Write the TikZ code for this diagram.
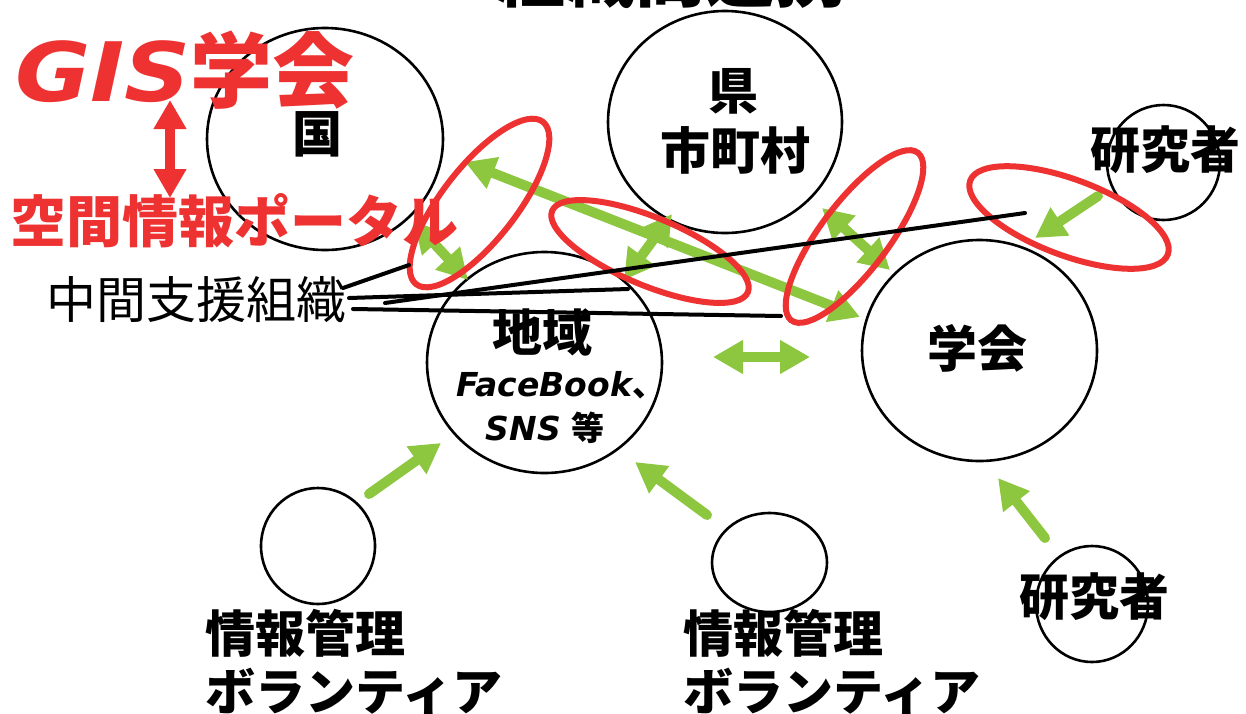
\documentclass[tikz,border=0pt]{standalone}
\usepackage{fontspec}
\usetikzlibrary{arrows.meta,shapes.geometric}
\newfontfamily\jp{Noto Sans CJK JP}
\newfontfamily\lat{DejaVu Sans}
\newfontfamily\latw{DejaVu Sans}[FakeStretch=1.12]
\definecolor{gr}{RGB}{141,198,63}
\definecolor{rd}{RGB}{238,50,50}
\newcommand\fsz[1]{\fontsize{#1}{#1}\selectfont}
\begin{document}
\begin{tikzpicture}[x=1pt,y=-1pt,
  circ/.style={ellipse,draw,line width=2.6pt,inner sep=0pt},
  redell/.style={ellipse,draw=rd,line width=6pt,inner sep=0pt},
  lbl/.style={inner sep=0pt,font=\jp\bfseries\fsz{50}},
  garr/.style={draw=gr,line width=10pt,line cap=round,-{Triangle[length=30pt,width=32pt]}},
  gdarr/.style={draw=gr,line width=10pt,{Triangle[length=30pt,width=32pt]}-{Triangle[length=30pt,width=32pt]}},
  blk/.style={draw=black,line width=4pt,line cap=round}]
\useasboundingbox (0,0) rectangle (1246,713);
\clip (0,0) rectangle (1246,713);

% title (cut off at top)
\node[inner sep=0pt,anchor=south,font=\jp\bfseries\fsz{70}] (title) at (670,9) {組織間連携};

% circles
\node[circ,minimum width=236pt,minimum height=222pt] (kuni) at (325,139) {};
\node[circ,minimum width=234pt,minimum height=222pt] (ken) at (725,122) {};
\node[circ,minimum width=235pt,minimum height=221pt] (chiiki) at (544.5,362.5) {};
\node[circ,minimum width=235pt,minimum height=221pt] (gakkai) at (979.5,350.5) {};
\node[circ,minimum width=113pt,minimum height=115pt] (res1) at (1163.5,162.5) {};
\node[circ,minimum width=114pt,minimum height=116pt] (vol1) at (318,546) {};
\node[circ,minimum width=115pt,minimum height=99pt] (vol2) at (769.5,562.5) {};
\node[circ,minimum width=112pt,minimum height=116pt] (res2) at (1092,604) {};

% green arrow end points
\coordinate (a1s) at (465,162); \coordinate (a1e) at (860,317);
\coordinate (a2s) at (414,222); \coordinate (a2e) at (468,280);
\coordinate (a3s) at (672,214); \coordinate (a3e) at (624,280);
\coordinate (a4s) at (822,208); \coordinate (a4e) at (890,270);
\coordinate (a5s) at (713,357); \coordinate (a5e) at (810,357);
\coordinate (a6s) at (1098,196); \coordinate (a6e) at (1035,238);
\coordinate (a7s) at (369,494); \coordinate (a7e) at (441,443);
\coordinate (a8s) at (707,515); \coordinate (a8e) at (635,462);
\coordinate (a9s) at (1045,538); \coordinate (a9e) at (998,478);

\draw[gdarr] (a1s) -- (a1e);
\draw[gdarr] (a2s) -- (a2e);
\draw[gdarr] (a3s) -- (a3e);
\draw[gdarr] (a4s) -- (a4e);
\draw[gdarr] (a5s) -- (a5e);
\draw[garr] (a6s) -- (a6e);
\draw[garr] (a7s) -- (a7e);
\draw[garr] (a8s) -- (a8e);
\draw[garr] (a9s) -- (a9e);

% red ellipses
\node[redell,minimum width=206pt,minimum height=74pt,rotate=52] (e1) at (479.5,203) {};
\node[redell,minimum width=212pt,minimum height=68pt,rotate=-22.6] (e2) at (650,251.5) {};
\node[redell,minimum width=210pt,minimum height=68pt,rotate=53] (e3) at (854.5,236.5) {};
\node[redell,minimum width=211pt,minimum height=76pt,rotate=-20.5] (e4) at (1069,217.5) {};

% red vertical double arrow
\coordinate (r1) at (170,100); \coordinate (r2) at (170,198);
\draw[draw=rd,line width=10pt,{Triangle[length=29pt,width=31pt]}-{Triangle[length=29pt,width=31pt]}] (r1) -- (r2);

% texts
\node[lbl,anchor=west,text=rd,font=\jp\bfseries\fsz{56}] (portal) at (10,221) {空間情報ポータル};
\node[lbl,anchor=west,text=rd,font=\fsz{82}] (gis) at (15,70) {{\latw\bfseries\itshape GIS}{\jp\bfseries 学会}};
\node[lbl,anchor=west,font=\jp\fsz{50}] (chukan) at (46,300) {中間支援組織};

\node[lbl] (tkuni) at (317,134) {国};
\node[lbl] (tken) at (733,91) {県};
\node[lbl] (tshi) at (735,150) {市町村};
\node[lbl] (tchiiki) at (542,332) {地域};
\node[lbl,font=\fsz{33}] (tfb) at (561,385) {{\lat\bfseries\itshape FaceBook}{\jp\bfseries 、}};
\node[lbl,font=\fsz{33}] (tsns) at (545,428) {{\lat\bfseries\itshape SNS} {\jp\bfseries 等}};
\node[lbl] (tgakkai) at (977,348) {学会};
\node[lbl] (tres1) at (1165,150) {研究者};
\node[lbl] (tres2) at (1094,597) {研究者};
\node[lbl,anchor=west] (tj1) at (205,633) {情報管理};
\node[lbl,anchor=west] (tv1) at (205,692) {ボランティア};
\node[lbl,anchor=west] (tj2) at (683,633) {情報管理};
\node[lbl,anchor=west] (tv2) at (683,692) {ボランティア};

% black connector lines from 中間支援組織
\coordinate (b1s) at (343,288); \coordinate (b1e) at (409,265);
\coordinate (b2s) at (349,298); \coordinate (b2e) at (628,289);
\coordinate (b3s) at (385,303); \coordinate (b3e) at (1025,213);
\coordinate (b4s) at (353,309); \coordinate (b4e) at (781,316);
\draw[blk] (b1s) -- (b1e);
\draw[blk] (b2s) -- (b2e);
\draw[blk] (b3s) -- (b3e);
\draw[blk] (b4s) -- (b4e);
\end{tikzpicture}
\end{document}
